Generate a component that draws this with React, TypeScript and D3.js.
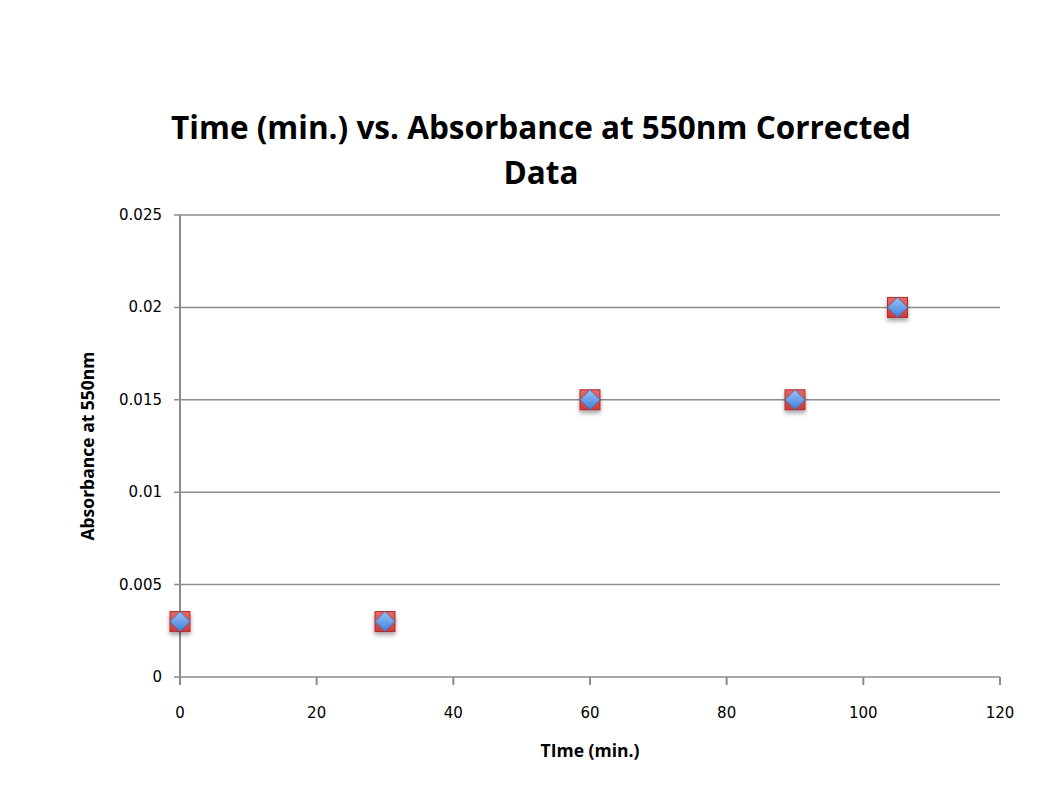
import React from "react";
import * as d3 from "d3";

const times = [0, 30, 60, 90, 105];
const absorbance = [0.003, 0.003, 0.015, 0.015, 0.02];
const xTicks = [0, 20, 40, 60, 80, 100, 120];
const yTicks = [0, 0.005, 0.01, 0.015, 0.02, 0.025];
const titleLines = ["Time (min.) vs. Absorbance at 550nm Corrected", "Data"];
const xLabel = "TIme (min.)";
const yLabel = "Absorbance at 550nm";

export default function App() {
  const W = 1038, H = 788;
  const x = d3.scaleLinear().domain([0, 120]).range([180, 1000]);
  const y = d3.scaleLinear().domain([0, 0.025]).range([677, 215]);
  const font = "'Open Sans', 'DejaVu Sans', sans-serif";
  const tickFont = "'DejaVu Sans', sans-serif";
  const grid = "#8c8c8c";
  return (
    <svg width={W} height={H} style={{ position: "absolute", left: 0, top: 0, background: "#fff" }} fontFamily={font}>
      <defs>
        <linearGradient id="blueG" x1="0" y1="0" x2="0" y2="1">
          <stop offset="0" stopColor="#9cc3f5" />
          <stop offset="1" stopColor="#3f7fd9" />
        </linearGradient>
        <linearGradient id="redG" x1="0" y1="0" x2="0" y2="1">
          <stop offset="0" stopColor="#e66a67" />
          <stop offset="1" stopColor="#cc3b38" />
        </linearGradient>
        <filter id="sh" x="-50%" y="-50%" width="200%" height="200%">
          <feDropShadow dx="0" dy="3" stdDeviation="2" floodColor="#000" floodOpacity="0.35" />
        </filter>
      </defs>
      <g fontWeight="bold" fontSize={31.5} textAnchor="middle" fill="#000">
        {titleLines.map((t, i) => (
          <text key={i} x={541} y={139 + i * 45}>{t}</text>
        ))}
      </g>
      {yTicks.map((t) => (
        <g key={"y" + t}>
          <line x1={174} x2={1000} y1={y(t)} y2={y(t)} stroke={grid} strokeWidth={1.5} />
          <text x={162} y={y(t) + 5} fontSize={15} fontFamily={tickFont} textAnchor="end">{t}</text>
        </g>
      ))}
      <line x1={180} x2={180} y1={215} y2={684} stroke={grid} strokeWidth={2} />
      {xTicks.map((t) => (
        <g key={"x" + t}>
          <line x1={x(t)} x2={x(t)} y1={677} y2={685} stroke={grid} strokeWidth={2} />
          <text x={x(t)} y={718} fontSize={15} fontFamily={tickFont} textAnchor="middle">{t}</text>
        </g>
      ))}
      <text x={590} y={757} fontSize={17.5} fontWeight="bold" textAnchor="middle">{xLabel}</text>
      <text transform={`translate(94,446) rotate(-90)`} fontSize={17.5} fontWeight="bold" textAnchor="middle">{yLabel}</text>
      {times.map((t, i) => {
        const cx = x(t), cy = y(absorbance[i]);
        return (
          <g key={"p" + i} filter="url(#sh)">
            <rect x={cx - 10} y={cy - 10} width={20} height={20} fill="url(#redG)" stroke="#b02a28" strokeWidth={1} />
            <path d={`M${cx},${cy - 10}L${cx + 10},${cy}L${cx},${cy + 10}L${cx - 10},${cy}Z`} fill="url(#blueG)" stroke="#3b6fb8" strokeWidth={0.8} />
          </g>
        );
      })}
    </svg>
  );
}
